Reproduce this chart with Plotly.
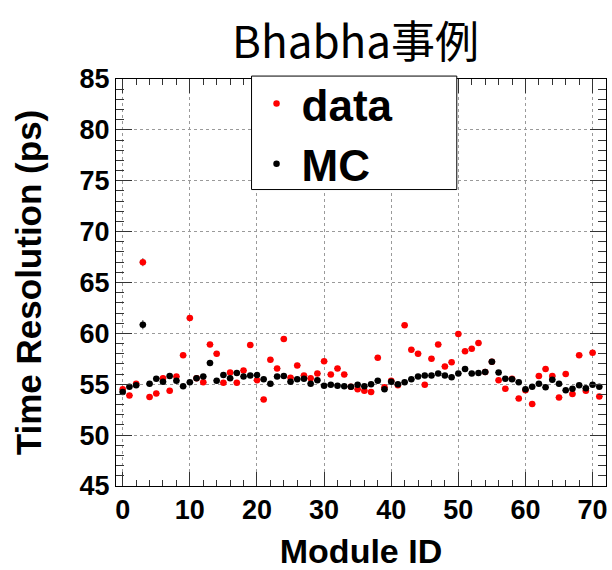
import plotly.graph_objects as go

# Per-module time resolution (ps), modules 0..71
module_id = list(range(72))

data_res = [54.5, 53.9, 55.05, 67.0, 53.75, 54.1, 55.6, 54.35, 55.75, 57.85,
            61.5, 55.6, 55.2, 58.9, 58.0, 55.15, 56.15, 55.15, 56.35, 58.85,
            55.4, 53.5, 57.4, 56.55, 59.45, 55.65, 56.85, 55.85, 55.6, 56.05,
            57.25, 55.95, 56.55, 55.95, 54.75, 54.5, 54.35, 54.25, 57.6, 54.7,
            55.35, 54.9, 60.8, 58.4, 58.0, 54.95, 57.5, 58.9, 56.75, 57.15,
            59.95, 58.25, 58.5, 59.05, 56.2, 57.2, 55.4, 54.55, 55.55, 53.6,
            54.4, 53.05, 55.8, 56.5, 55.8, 53.7, 56.0, 54.05, 57.85, 54.35,
            58.1, 53.8]

mc_res = [54.25, 54.75, 54.9, 60.85, 55.05, 55.55, 55.25, 55.8, 55.35, 54.8,
          55.2, 55.6, 55.75, 57.1, 55.35, 55.9, 55.6, 56.1, 55.75, 55.85,
          55.9, 55.5, 55.05, 55.75, 55.8, 55.25, 55.5, 55.55, 55.05, 55.4,
          54.85, 54.95, 54.85, 54.8, 54.75, 54.95, 54.8, 55.0, 55.35, 54.5,
          55.25, 55.0, 55.2, 55.5, 55.75, 55.85, 55.85, 56.05, 55.85, 55.7,
          56.05, 56.5, 56.05, 56.1, 56.2, 57.2, 56.15, 55.55, 55.5, 55.2,
          54.5, 54.75, 55.05, 54.7, 55.45, 55.05, 54.4, 54.55, 54.9, 54.6,
          54.95, 54.75]

data_err = [0.25] * 72
data_err[3] = 0.4
mc_err = [0.2] * 72
mc_err[3] = 0.45

x_half_width = 0.5

FONT = "Liberation Sans, Arial, Helvetica, sans-serif"

fig = go.Figure()

fig.add_trace(go.Scatter(
    x=module_id, y=data_res, mode="markers", name="data",
    marker=dict(color="#ff0000", size=6.5),
    error_x=dict(type="constant", value=x_half_width, color="#555555", thickness=1, width=0),
    error_y=dict(type="data", array=data_err, color="#555555", thickness=1, width=0),
))

fig.add_trace(go.Scatter(
    x=module_id, y=mc_res, mode="markers", name="MC",
    marker=dict(color="#000000", size=6.5),
    error_x=dict(type="constant", value=x_half_width, color="#333333", thickness=1, width=0),
    error_y=dict(type="data", array=mc_err, color="#333333", thickness=1, width=0),
))

axis_common = dict(
    showline=True, linecolor="black", linewidth=1, mirror="allticks",
    ticks="inside", tickcolor="#333333", tickwidth=1,
    showgrid=True, gridcolor="#9a9a9a", griddash="dot", gridwidth=1,
    zeroline=False,
    tickfont=dict(family=FONT, size=27, color="black", weight="bold"),
)

fig.update_xaxes(
    range=[-1, 72], tickmode="linear", tick0=0, dtick=10, ticklen=14,
    minor=dict(dtick=2, tick0=0, ticks="inside", ticklen=6, tickcolor="#333333",
               tickwidth=1, showgrid=False),
    title=dict(text="Module ID", standoff=17,
               font=dict(family=FONT, size=34, color="black", weight="bold")),
    **axis_common,
)
fig.update_yaxes(
    range=[45, 85], tickmode="linear", tick0=45, dtick=5, ticklen=16,
    minor=dict(dtick=1, tick0=45, ticks="inside", ticklen=8, tickcolor="#333333",
               tickwidth=1, showgrid=False),
    title=dict(text="Time Resolution (ps)", standoff=27,
               font=dict(family=FONT, size=35, color="black", weight="bold")),
    **axis_common,
)

# Legend frame (white box with thin black border)
fig.add_shape(
    type="rect", xref="paper", yref="paper",
    x0=0.2766, x1=0.6955, y0=0.7284, y1=1.0072,
    line=dict(color="black", width=1), fillcolor="white", layer="above",
)

fig.update_layout(
    width=612, height=570,
    margin=dict(l=116, r=4, t=79, b=75),
    paper_bgcolor="white", plot_bgcolor="white",
    title=dict(
        text="Bhabha事例", xref="container", yref="container",
        x=0.581, y=0.925, xanchor="center", yanchor="middle",
        font=dict(family="Noto Sans CJK JP", size=44, color="black"),
    ),
    legend=dict(
        x=0.2766, y=1.026, xanchor="left", yanchor="top",
        bgcolor="rgba(0,0,0,0)", borderwidth=0,
        font=dict(family=FONT, size=44, color="black", weight="bold"),
        itemwidth=40,
    ),
    showlegend=True,
)

fig.write_html("out.html")
